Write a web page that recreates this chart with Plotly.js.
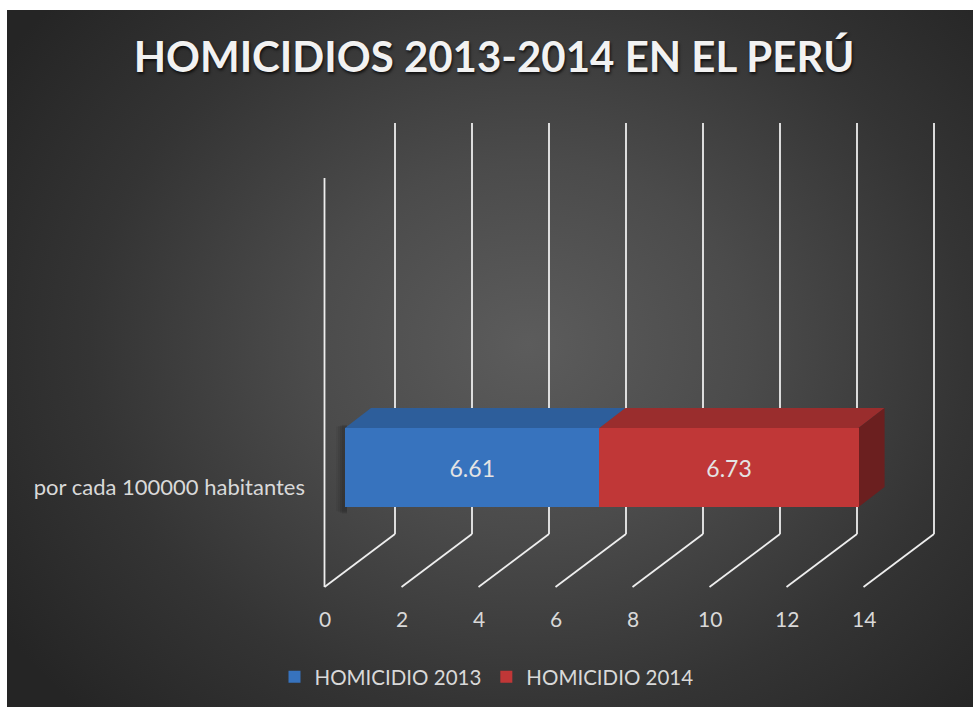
<!DOCTYPE html>
<html>
<head>
<meta charset="utf-8">
<script src="https://cdn.plot.ly/plotly-3.0.1.min.js"></script>
<style>
  html, body { margin: 0; padding: 0; background: #ffffff; }
  #wrap { position: relative; width: 973px; height: 707px; }
  #bg { position: absolute; left: 7px; top: 10px; width: 966px; height: 697px;
        background: radial-gradient(ellipse 65% 75% at 54% 48%, #5c5c5c 0%, #4b4b4b 35%, #343434 70%, #252525 100%); }
  #chart { position: absolute; left: 0; top: 0; width: 973px; height: 707px; }
</style>
</head>
<body>
<div id="wrap"><div id="bg"></div><div id="chart"></div></div>
<script>
// ---- data ----
const categories = ['por cada 100000 habitantes'];
const seriesNames = ['HOMICIDIO 2013', 'HOMICIDIO 2014'];
const values2013 = [6.61];
const values2014 = [6.73];
const tickVals = [0, 2, 4, 6, 8, 10, 12, 14];
const titleText = 'HOMICIDIOS 2013-2014 EN EL PERÚ';

// ---- geometry / style ----
const W = 973, H = 707;
const plotL = 310, plotR = 950, plotT = 110, plotB = 600;
const barX0px = 345, pxPerX = 38.5;          // bar front plane
const frontX0px = 324.5;                     // floor front edge (tick label plane)
const barYpx = 467.5, pxPerY = 79;           // category centre, bar width = 1
const tickLabelYpx = 618;
const xRange = [(plotL - barX0px) / pxPerX, (plotR - barX0px) / pxPerX];
const yRange = [-(plotB - barYpx) / pxPerY, (barYpx - plotT) / pxPerY];
const depthDx = 26 / pxPerX, depthDy = 20 / pxPerY;   // bar depth in data units
const front = {dx: frontX0px - barX0px, dy: -119.5};  // pixel offsets of floor front edge
const back = {dx: 50, dyBottom: -66.5, dyTop: 344.5};
const frontTop = 289.5;
const gridColor = '#eeeeee';
const colors = {
  front: ['#3773be', '#c03737'],
  top: ['#2d5e9b', '#9a2d2d'],
  side: '#6b1f1f'
};
const fontFam = 'Lato, "Open Sans", sans-serif';

const yPos = categories.map((c, i) => i);

const traces = [
  {type: 'bar', orientation: 'h', name: seriesNames[0], y: yPos, x: values2013, width: 1,
   marker: {color: colors.front[0]}, texttemplate: '%{x:.2f}', textposition: 'inside',
   insidetextanchor: 'middle', textfont: {color: '#e4e4e4', size: 23, family: fontFam},
   hoverinfo: 'skip'},
  {type: 'bar', orientation: 'h', name: seriesNames[1], y: yPos, x: values2014, width: 1,
   marker: {color: colors.front[1]}, texttemplate: '%{x:.2f}', textposition: 'inside',
   insidetextanchor: 'middle', textfont: {color: '#e4e4e4', size: 23, family: fontFam},
   hoverinfo: 'skip'}
];

const shapes = [];
// back-wall verticals and floor diagonals
tickVals.forEach(v => {
  shapes.push({type: 'line', layer: 'below', xref: 'x', yref: 'y', xsizemode: 'pixel', ysizemode: 'pixel',
    xanchor: v, yanchor: 0, x0: back.dx, x1: back.dx, y0: back.dyBottom, y1: back.dyTop,
    line: {color: gridColor, width: 1.8}});
  shapes.push({type: 'line', layer: 'below', xref: 'x', yref: 'y', xsizemode: 'pixel', ysizemode: 'pixel',
    xanchor: v, yanchor: 0, x0: back.dx, x1: front.dx, y0: back.dyBottom, y1: front.dy,
    line: {color: gridColor, width: 1.8}});
});
// left wall front edge at the first tick
shapes.push({type: 'line', layer: 'below', xref: 'x', yref: 'y', xsizemode: 'pixel', ysizemode: 'pixel',
  xanchor: tickVals[0], yanchor: 0, x0: front.dx, x1: front.dx, y0: front.dy, y1: frontTop,
  line: {color: gridColor, width: 1.8}});

// soft shadow at the bar's left end
yPos.forEach(yc => {
  [[-9, 0.05], [-7, 0.06], [-5, 0.07], [-3, 0.08]].forEach(([w, a]) => {
    shapes.push({type: 'rect', layer: 'below', xref: 'x', yref: 'y', xsizemode: 'pixel',
      xanchor: 0, x0: w, x1: 2, y0: yc - 0.6 - w / 200, y1: yc + 0.55 + w / 300,
      fillcolor: `rgba(0,0,0,${a})`, line: {width: 0}});
  });
});

// 3D top faces and end face of the stacked bar
const segs = [values2013, values2014];
yPos.forEach((yc, i) => {
  let start = 0;
  segs.forEach((arr, s) => {
    const end = start + arr[i];
    const yt = yc + 0.5;
    shapes.push({type: 'path', layer: 'below', xref: 'x', yref: 'y', line: {width: 0},
      fillcolor: colors.top[s],
      path: `M ${start},${yt} L ${start + depthDx},${yt + depthDy} L ${end + depthDx},${yt + depthDy} L ${end},${yt} Z`});
    start = end;
  });
  const yt = yc + 0.5, yb = yc - 0.5;
  shapes.push({type: 'path', layer: 'below', xref: 'x', yref: 'y', line: {width: 0},
    fillcolor: colors.side,
    path: `M ${start},${yt} L ${start + depthDx},${yt + depthDy} L ${start + depthDx},${yb + depthDy} L ${start},${yb} Z`});
});

// value-axis labels on the floor's front edge
const annotations = tickVals.map(v => ({
  x: v, xref: 'x', xshift: front.dx, y: 1 - tickLabelYpx / H, yref: 'paper',
  text: String(v), showarrow: false, xanchor: 'center', yanchor: 'middle',
  font: {family: fontFam, size: 21, color: '#d9d9d9'}
}));

const layout = {
  width: W, height: H,
  margin: {l: 0, r: 0, t: 0, b: 0},
  paper_bgcolor: 'rgba(0,0,0,0)', plot_bgcolor: 'rgba(0,0,0,0)',
  barmode: 'stack',
  showlegend: true,
  title: {text: titleText, x: 494 / W, xanchor: 'center', y: 1 - 57 / H, yanchor: 'middle',
    font: {family: fontFam, size: 42, color: '#f2f2f2', weight: 'bold',
           shadow: '1px 2px 3px rgba(0,0,0,0.75)'}},
  xaxis: {domain: [plotL / W, plotR / W], range: xRange, showticklabels: false, tickvals: tickVals,
    showgrid: false, zeroline: false, showline: false, ticks: '', fixedrange: true},
  yaxis: {domain: [1 - plotB / H, 1 - plotT / H], range: yRange, tickvals: yPos, ticktext: categories,
    showgrid: false, zeroline: false, showline: false, ticks: '',
    ticklabelshift: 20, ticklabelstandoff: 4,
    tickfont: {family: fontFam, size: 22, color: '#d9d9d9'}, fixedrange: true},
  legend: {orientation: 'h', x: 0.5, xanchor: 'center', y: 1 - 677 / H, yanchor: 'middle',
    font: {family: fontFam, size: 20.5, color: '#d9d9d9'}, bgcolor: 'rgba(0,0,0,0)', traceorder: 'normal'},
  shapes: shapes,
  annotations: annotations
};

Plotly.newPlot('chart', traces, layout, {displayModeBar: false, staticPlot: true});
</script>
</body>
</html>
